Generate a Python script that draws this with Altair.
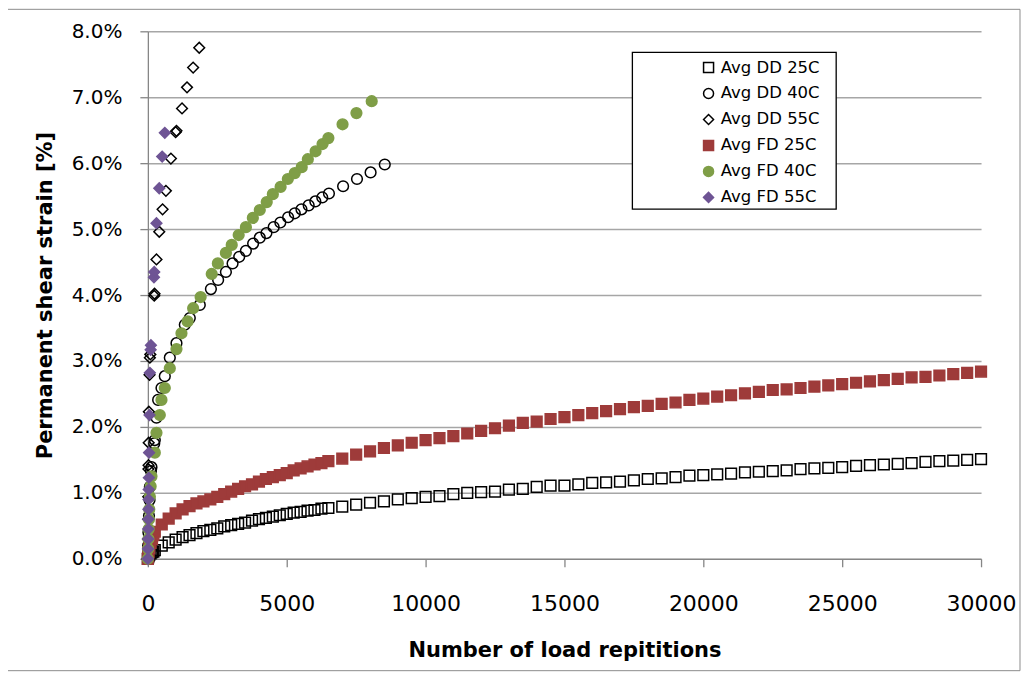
import altair as alt
import pandas as pd

SERIES = ["Avg DD 25C", "Avg DD 40C", "Avg DD 55C", "Avg FD 25C", "Avg FD 40C", "Avg FD 55C"]
SHAPES = ["square", "circle", "diamond", "square", "circle", "diamond"]
FILLS = ["transparent", "transparent", "transparent", "#9E3B3A", "#7F9E47", "#6E5494"]
STROKES = ["#000000", "#000000", "#000000", "#9E3B3A", "#7F9E47", "#6E5494"]

N_25 = [0, 10, 25, 50, 100, 150, 200, 250, 500, 750, 1000, 1250, 1500, 1750, 2000, 2250,
        2500, 2750, 3000, 3250, 3500, 3750, 4000, 4250, 4500, 4750, 5000, 5250, 5500, 5750,
        6000, 6250, 6500, 7000, 7500, 8000, 8500, 9000, 9500, 10000, 10500, 11000, 11500,
        12000, 12500, 13000, 13500, 14000, 14500, 15000, 15500, 16000, 16500, 17000, 17500,
        18000, 18500, 19000, 19500, 20000, 20500, 21000, 21500, 22000, 22500, 23000, 23500,
        24000, 24500, 25000, 25500, 26000, 26500, 27000, 27500, 28000, 28500, 29000, 29500,
        30000]

DD25 = [0.0, 0.02, 0.04, 0.06, 0.08, 0.10, 0.11,
        0.13, 0.20, 0.25, 0.29, 0.33, 0.36, 0.39, 0.42, 0.44, 0.46, 0.49, 0.51, 0.53, 0.55,
        0.58, 0.60, 0.62, 0.64, 0.66, 0.68, 0.70, 0.71, 0.73, 0.74, 0.76, 0.77,
        0.79, 0.82, 0.85, 0.87, 0.90, 0.92,
        0.94, 0.95, 0.98, 1.00, 1.01, 1.02, 1.05, 1.06, 1.09, 1.11, 1.11, 1.13, 1.15, 1.16,
        1.17, 1.19, 1.21, 1.22, 1.24, 1.26, 1.27,
        1.28, 1.29, 1.31, 1.32, 1.33, 1.34, 1.36, 1.37, 1.38, 1.39, 1.41, 1.42, 1.43, 1.44,
        1.45, 1.47, 1.48, 1.49, 1.50, 1.51]

FD25 = [0.0, 0.04, 0.10, 0.16, 0.24, 0.30, 0.36,
        0.41, 0.52, 0.61, 0.69, 0.75, 0.80, 0.84, 0.87, 0.90, 0.94, 0.98, 1.02, 1.06, 1.10,
        1.13, 1.17, 1.21, 1.24, 1.27, 1.30, 1.34, 1.37, 1.40, 1.43, 1.45, 1.48,
        1.52, 1.58, 1.63, 1.68, 1.72, 1.76,
        1.80, 1.83, 1.86, 1.90, 1.94, 1.98, 2.02, 2.06, 2.08, 2.12, 2.15, 2.18, 2.21, 2.24,
        2.27, 2.30, 2.32, 2.35, 2.37, 2.41, 2.43,
        2.46, 2.48, 2.51, 2.53, 2.56, 2.57, 2.59, 2.61, 2.63, 2.65, 2.67, 2.69, 2.71, 2.73,
        2.75, 2.76, 2.78, 2.80, 2.82, 2.84]

N_DD40 = [0, 10, 20, 40, 60, 72, 110, 130, 230, 250, 310, 370, 490, 610, 790, 1030, 1330,
          1510, 1870, 2270, 2530, 2810, 3050, 3290, 3530, 3790, 4030, 4270, 4530, 4770, 5050,
          5290, 5530, 5790, 6030, 6280, 6520, 7030, 7530, 8020, 8530]
DD40 = [0.0, 0.20, 0.40, 0.65, 0.89, 1.09, 1.33, 1.39, 1.75, 1.80, 2.14, 2.41, 2.59, 2.77,
        3.05, 3.27, 3.55, 3.65, 3.85, 4.09, 4.23, 4.35, 4.48, 4.58, 4.67, 4.78, 4.87, 4.94,
        5.03, 5.10, 5.18, 5.24, 5.30, 5.36, 5.42, 5.48, 5.54, 5.65, 5.76, 5.86, 5.98]

N_FD40 = [0, 10, 20, 30, 40, 50, 72, 100, 130, 250, 310, 430, 490, 610, 790, 1030, 1210,
          1430, 1630, 1900, 2300, 2520, 2810, 3020, 3270, 3530, 3780, 4030, 4280, 4500, 4780,
          5040, 5290, 5540, 5760, 6040, 6290, 6500, 7010, 7510, 8060]
FD40 = [0.0, 0.15, 0.30, 0.45, 0.60, 0.75, 0.94, 1.10, 1.25, 1.61, 1.91, 2.18, 2.41, 2.59,
        2.89, 3.18, 3.42, 3.60, 3.80, 3.97, 4.32, 4.48, 4.64, 4.76, 4.91, 5.03, 5.17, 5.29,
        5.41, 5.53, 5.64, 5.76, 5.85, 5.94, 6.06, 6.18, 6.29, 6.38, 6.59, 6.76, 6.94]

N_DD55 = [0, 5, 10, 15, 20, 25, 30, 36, 60, 72, 90, 230, 240, 310, 410, 530, 650, 830, 1000,
          1030, 1230, 1410, 1630, 1850]
DD55 = [0.0, 0.30, 0.60, 0.94, 1.36, 1.42, 1.76, 2.23, 2.79, 3.05, 3.10, 3.99, 4.02, 4.54,
        4.96, 5.30, 5.58, 6.07, 6.47, 6.49, 6.83, 7.15, 7.45, 7.75]

N_FD55 = [0, 5, 8, 12, 16, 20, 25, 30, 36, 45, 60, 72, 100, 110, 220, 230, 310, 410, 515, 610]
FD55 = [0.0, 0.15, 0.30, 0.45, 0.60, 0.75, 0.90, 1.05, 1.23, 1.61, 2.18, 2.82, 3.17, 3.24,
        4.27, 4.35, 5.09, 5.62, 6.10, 6.46]

X_TICKS = [0, 5000, 10000, 15000, 20000, 25000, 30000]
Y_TICKS = [0, 1, 2, 3, 4, 5, 6, 7, 8]

rows = []
for name, ns, vals in [
    (SERIES[0], N_25, DD25),
    (SERIES[1], N_DD40, DD40),
    (SERIES[2], N_DD55, DD55),
    (SERIES[3], N_25, FD25),
    (SERIES[4], N_FD40, FD40),
    (SERIES[5], N_FD55, FD55),
]:
    for n, v in zip(ns, vals):
        rows.append({"N": n, "strain": v, "series": name})
df = pd.DataFrame(rows)

W, H = 834, 528
FONT = "DejaVu Sans"
GRAY = "#868686"

leg = alt.Legend(title=None, orient="none", legendX=553, legendY=28)

points = alt.Chart(df).mark_point(filled=True, strokeWidth=1.5, opacity=1, size=115).encode(
    x=alt.X("N:Q", scale=alt.Scale(domain=[0, 30000], nice=False),
            axis=alt.Axis(values=X_TICKS, format="d", title="Number of load repititions",
                          grid=False, labelFlush=False, labelOverlap=False,
                          labelFontSize=22, labelPadding=27, titlePadding=25)),
    y=alt.Y("strain:Q", scale=alt.Scale(domain=[0, 8], nice=False),
            axis=alt.Axis(values=Y_TICKS, labelExpr="format(datum.value, '.1f') + '%'",
                          title="Permanent shear strain [%]", grid=True,
                          gridColor="#A6A6A6", gridWidth=1.5,
                          labelFontSize=20, labelPadding=18, titlePadding=16)),
    shape=alt.Shape("series:N", scale=alt.Scale(domain=SERIES, range=SHAPES), legend=leg),
    fill=alt.Fill("series:N", scale=alt.Scale(domain=SERIES, range=FILLS), legend=leg),
    stroke=alt.Stroke("series:N", scale=alt.Scale(domain=SERIES, range=STROKES), legend=leg),
)

one = pd.DataFrame({"k": [0]})
legend_box = alt.Chart(one).mark_rect(fill="white", stroke="#000000", strokeWidth=1.3).encode(
    x=alt.value(485), x2=alt.value(689), y=alt.value(21), y2=alt.value(178)
)
frame = alt.Chart(one).mark_rect(fill="transparent", stroke="#8C8C8C", strokeWidth=1).encode(
    x=alt.value(-141), x2=alt.value(873), y=alt.value(-22), y2=alt.value(640)
)

chart = alt.layer(frame, legend_box, points).properties(
    width=W, height=H,
    autosize=alt.AutoSizeParams(type="none"),
    padding={"left": 140, "top": 23, "right": 40, "bottom": 113},
    background="white",
).configure_view(strokeWidth=0).configure_axis(
    domainColor=GRAY, domainWidth=1.3, tickColor=GRAY, tickWidth=1.3, tickSize=8,
    labelFont=FONT, labelColor="#000000", titleFont=FONT, titleFontWeight="bold",
    titleFontSize=21, titleColor="#000000",
).configure_legend(
    padding=0, labelFont=FONT, labelFontSize=16.5, labelColor="#000000", labelOffset=4,
    rowPadding=9, symbolSize=100, symbolStrokeWidth=1.5, labelLimit=300,
)

chart.save("out.html", embed_options={"renderer": "svg", "actions": False})
